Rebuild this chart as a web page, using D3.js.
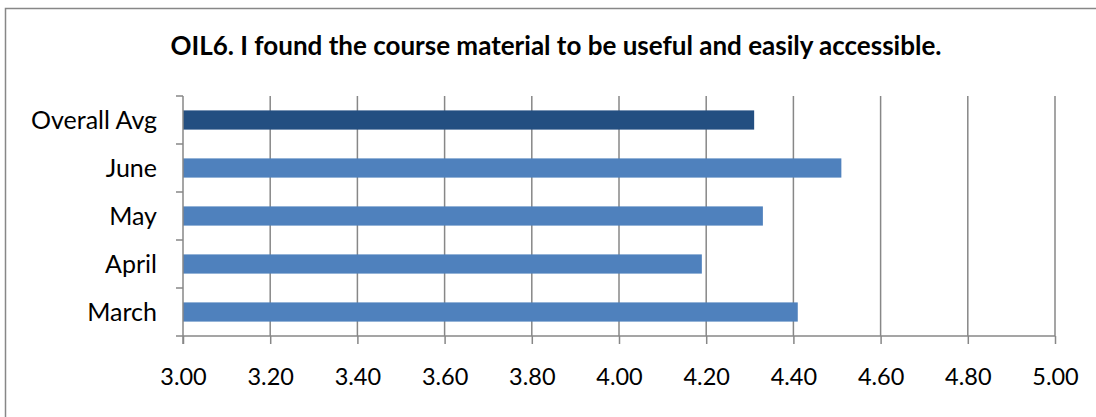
<!DOCTYPE html>
<html>
<head>
<meta charset="utf-8">
<script src="https://cdnjs.cloudflare.com/ajax/libs/d3/7.8.5/d3.min.js"></script>
<style>
  body { margin: 0; background: #fff; }
  svg text { font-family: Lato, "Open Sans", sans-serif; fill: #000; }
</style>
</head>
<body>
<div id="chart"></div>
<script>
// data
const categories = ['Overall Avg', 'June', 'May', 'April', 'March']
const scores = [4.31, 4.51, 4.33, 4.19, 4.41]
const barColors = ['#234f81', '#4f81bd', '#4f81bd', '#4f81bd', '#4f81bd']
const tickValues = [3.0, 3.2, 3.4, 3.6, 3.8, 4.0, 4.2, 4.4, 4.6, 4.8, 5.0]
const title = 'OIL6. I found the course material to be useful and easily accessible.'

const W = 1096, H = 417
const margin = { top: 96, right: 41, bottom: 81, left: 183 }
const width = W - margin.left - margin.right
const height = H - margin.top - margin.bottom
const gridColor = '#878787'

const svg = d3.select('#chart').append('svg')
	.attr('width', W)
	.attr('height', H)

// chart frame (only the top and left edges fall inside the picture)
svg.append('path')
	.attr('d', 'M5.5,' + H + 'V8.5H' + W)
	.attr('fill', 'none')
	.attr('stroke', gridColor)
	.attr('stroke-width', 1.5)

svg.append('text')
	.attr('x', 556)
	.attr('y', 55)
	.attr('text-anchor', 'middle')
	.attr('font-weight', 'bold')
	.attr('font-size', 26)
	.text(title)

const g = svg.append('g')
	.attr('transform', 'translate(' + margin.left + ',' + margin.top + ')')

const x = d3.scaleLinear().domain([3, 5]).range([0, width])
const y = d3.scaleBand().domain(categories).range([0, height]).paddingInner(0.6).paddingOuter(0.3)

// vertical gridlines
g.selectAll('.grid')
	.data(tickValues.slice(1))
	.enter().append('line')
	.attr('class', 'grid')
	.attr('x1', d => x(d)).attr('x2', d => x(d))
	.attr('y1', 0).attr('y2', height)
	.attr('stroke', gridColor)
	.attr('stroke-width', 1.5)

// bars
g.selectAll('.bar')
	.data(categories)
	.enter().append('rect')
	.attr('class', 'bar')
	.attr('x', x(3))
	.attr('y', d => y(d))
	.attr('width', (d, i) => x(scores[i]) - x(3))
	.attr('height', y.bandwidth())
	.attr('fill', (d, i) => barColors[i])

// x axis
const xAxis = g.append('g')
	.attr('transform', 'translate(0,' + height + ')')
	.call(d3.axisBottom(x).tickValues(tickValues).tickFormat(d3.format('.2f')).tickSize(8).tickPadding(24))
xAxis.select('.domain').attr('stroke', gridColor).attr('stroke-width', 1.5).attr('d', 'M-7,0H' + width)
xAxis.selectAll('line').attr('stroke', gridColor).attr('stroke-width', 1.5)
xAxis.selectAll('text').attr('font-size', 23.5).attr('font-family', 'Lato, sans-serif').attr('fill', '#000')

// y axis: Excel puts the ticks between categories
const step = height / categories.length
const yAxis = g.append('g')
yAxis.append('line')
	.attr('x1', 0).attr('x2', 0).attr('y1', 0).attr('y2', height + 8)
	.attr('stroke', gridColor).attr('stroke-width', 1.5)
yAxis.selectAll('.ytick')
	.data(d3.range(categories.length))
	.enter().append('line')
	.attr('x1', -7).attr('x2', 0)
	.attr('y1', i => i * step).attr('y2', i => i * step)
	.attr('stroke', gridColor).attr('stroke-width', 1.5)
yAxis.selectAll('.ylabel')
	.data(categories)
	.enter().append('text')
	.attr('x', -26)
	.attr('y', d => y(d) + y.bandwidth() / 2)
	.attr('dy', '0.36em')
	.attr('text-anchor', 'end')
	.attr('font-size', 25)
	.text(d => d)
</script>
</body>
</html>
